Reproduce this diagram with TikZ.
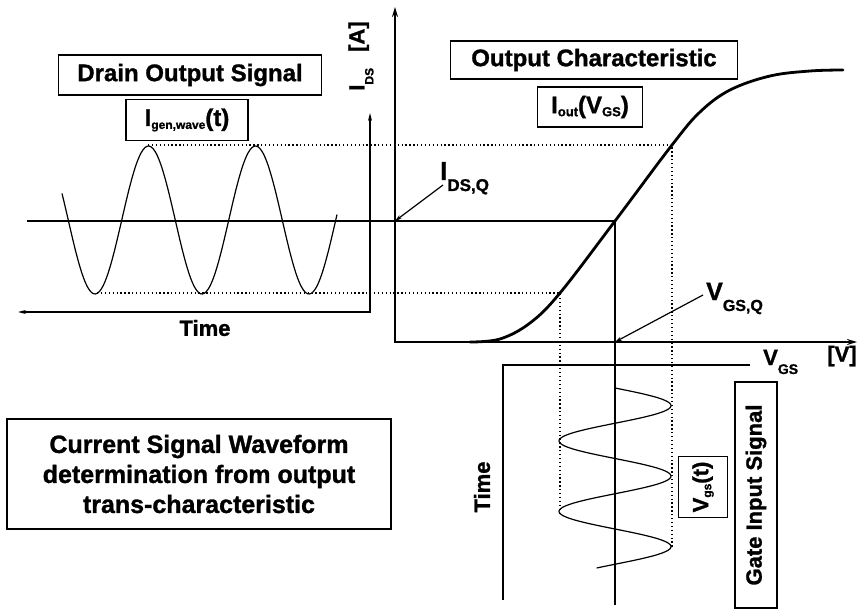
\documentclass[tikz,border=0pt]{standalone}
\usepackage{fontspec}
\setmainfont[BoldFeatures={FakeBold=1.2}]{Liberation Sans}
\usetikzlibrary{arrows.meta}
\newcommand{\lowsub}[3]{\raisebox{-#2pt}{\fontsize{#1}{#1}\selectfont #3}}
\tikzset{
  textbox/.style={draw,line width=1.4pt,inner sep=0pt,align=center,font=\fontsize{24}{28}\selectfont\bfseries},
  axislabel/.style={inner sep=0pt,font=\fontsize{22}{22}\selectfont\bfseries},
  thinline/.style={line width=1.2pt},
  axisline/.style={line width=2.8pt},
  guide/.style={line width=1.2pt,dash pattern=on 1.3pt off 2.6pt},
}

\begin{document}
\begin{tikzpicture}[x=1pt,y=-1pt]
\useasboundingbox (0,0) rectangle (859,612);
\coordinate (O) at (395,342);
\coordinate (top) at (395,7);
\coordinate (right) at (857,342);
\coordinate (Q) at (615,221);
\coordinate (QI) at (395,221);
\coordinate (QV) at (615,342);
\coordinate (qstart) at (27,221);
\coordinate (qend) at (615,605);
\coordinate (dtop) at (370,113);
\coordinate (dcorner) at (370,312);
\coordinate (dleft) at (18,312);
\coordinate (gright) at (750,365);
\coordinate (gcorner) at (503,365);
\coordinate (gbottom) at (503,600);
\coordinate (peak) at (148,145);
\coordinate (hi) at (672,145);
\coordinate (hiend) at (672,547);
\coordinate (trough) at (97,293);
\coordinate (lo) at (560,293);
\coordinate (loend) at (560,513);

\draw[axisline,{Stealth[length=10pt,width=6pt]}-{Stealth[length=10pt,width=6pt]}] (top) -- (O) -- (right);
\draw[thinline,{Stealth[length=8pt,width=4pt]}-{Stealth[length=8pt,width=4pt]}] (dtop) -- (dcorner) -- (dleft);
\draw[thinline] (gright) -- (gcorner) -- (gbottom);

\draw[thinline] (qstart) -- (Q);
\draw[line width=2pt] (Q) -- (qend);

\draw[guide] (peak) -- (hi) -- (hiend);
\draw[guide] (trough) -- (lo) -- (loend);

\draw[axisline,line cap=round] plot[smooth,tension=0.6] coordinates {(470,342) (500,339) (530,323) (560,293) (615,221) (672,145) (700,112) (730,90) (770,76) (810,71) (843,70)};

\draw[thinline,domain=62:337,samples=140,smooth] plot (\x,{220+74*cos(3.3645*(\x-95))});
\draw[thinline,domain=388:568,samples=140,smooth] plot ({615+56*sin(5.1064*(\x-388))},\x);

\node[textbox,minimum width=263,minimum height=40] (drain) at (190,75) {Drain Output Signal};
\node[textbox,minimum width=122,minimum height=41] (igen) at (187,120) {I\lowsub{12}{3}{gen,wave}(t)};
\node[textbox,minimum width=287,minimum height=38] (outchar) at (594,60) {Output Characteristic};
\node[textbox,minimum width=105,minimum height=40] (iout) at (590,107) {I\lowsub{13}{3}{out}(V\lowsub{13}{3}{GS})};
\node[textbox,minimum width=384,minimum height=110,font=\fontsize{25}{30}\selectfont\bfseries] (summary) at (199,474) {Current Signal Waveform\\determination from output\\trans-characteristic};
\node[textbox,rotate=90,minimum width=226,minimum height=42,font=\fontsize{22}{22}\selectfont\bfseries] (gate) at (756,495) {Gate Input Signal};
\node[textbox,rotate=90,minimum width=61,minimum height=49,font=\fontsize{22}{22}\selectfont\bfseries] (vgs) at (703,487) {V\lowsub{12}{3}{gs}(t)};

\node[axislabel] (dtime) at (205,328) {Time};
\node[axislabel,rotate=90] (gtime) at (482,487) {Time};
\node[axislabel,rotate=90] (ids) at (361,56) {I\lowsub{12}{9}{DS}\hspace{16pt}[A]};
\node[axislabel,anchor=base west] (vgsaxis) at (763,365) {V\lowsub{14}{9}{GS}};
\node[axislabel] (volt) at (842,356) {[V]};
\node[axislabel,anchor=base west,font=\fontsize{26}{26}\selectfont\bfseries] (idsq) at (440,180) {I\lowsub{17}{11}{DS,Q}};
\node[axislabel,anchor=base west,font=\fontsize{25}{25}\selectfont\bfseries] (vgsq) at (706,300) {V\lowsub{16}{11}{GS,Q}};

\coordinate (idsqfoot) at (443,185);
\coordinate (vgsqfoot) at (703,295);
\draw[thinline,-{Stealth[length=7pt,width=4pt]}] (idsqfoot) -- (QI);
\draw[thinline,-{Stealth[length=7pt,width=4pt]}] (vgsqfoot) -- (QV);
\end{tikzpicture}
\end{document}
